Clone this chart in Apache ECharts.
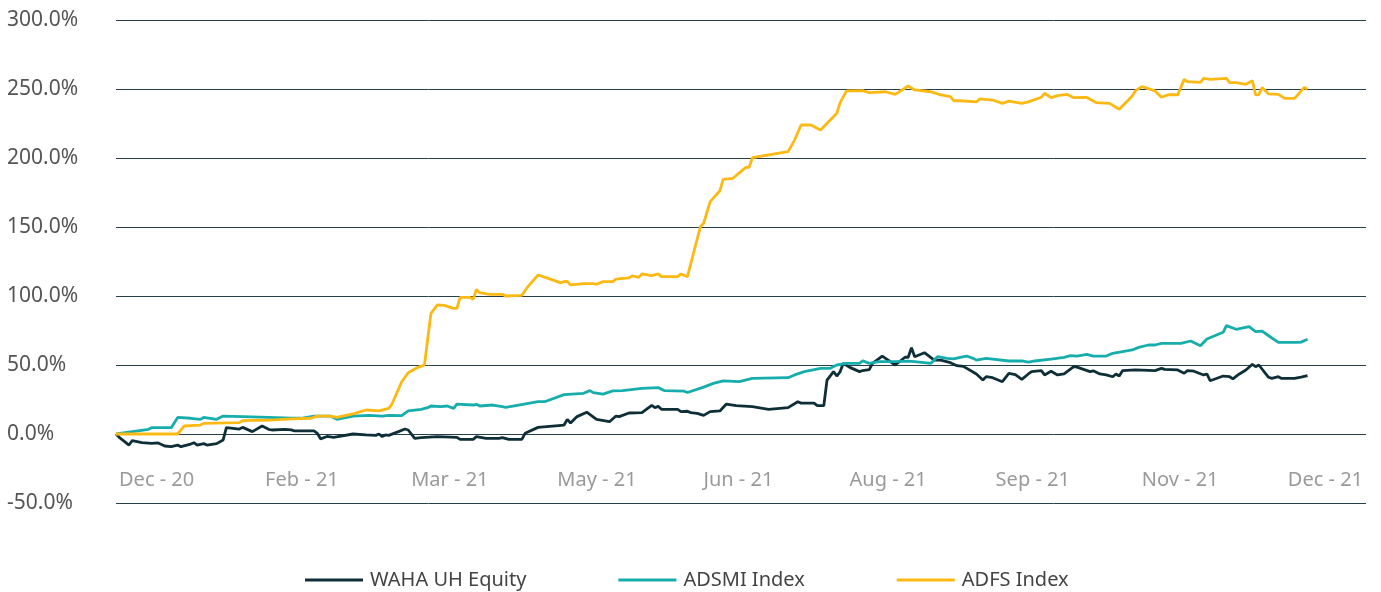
<!DOCTYPE html>
<html>
<head>
<meta charset="utf-8">
<title>WAHA vs ADSMI vs ADFS</title>
<script src="https://cdn.jsdelivr.net/npm/echarts@6/dist/echarts.min.js"></script>
<style>
  html, body { margin: 0; padding: 0; background: #fff; }
  #chart { width: 1381px; height: 592px; }
</style>
</head>
<body>
<div id="chart"></div>
<script>
  // x = calendar days since 31 Dec 2020, y = cumulative return in %
  const tickLabels = ['Dec - 20', 'Feb - 21', 'Mar - 21', 'May - 21', 'Jun - 21', 'Aug - 21', 'Sep - 21', 'Nov - 21', 'Dec - 21'];
  const tickStep = 45;
  const seriesNames = ['WAHA UH Equity', 'ADSMI Index', 'ADFS Index'];

  const waha = [
    [0, 0], [1, -2.4], [4, -8], [5, -4.8], [8, -6.2], [11, -6.8], [13, -6.5], [15, -8.7], [17, -9.2], [19, -8],
    [20, -9.2], [23, -7.3], [24, -6.3], [25, -8], [27, -7], [28, -8], [31, -7], [33, -4.3], [34, 4.6], [38, 3.6],
    [39, 4.8], [42, 1.7], [45, 5.8], [47, 3.4], [48, 2.9], [52, 3.4], [54, 3], [55, 2.2], [61, 2.2], [62, 0.5],
    [63, -3.5], [65, -1.8], [67, -2.4], [73, 0], [77, -0.7], [80, -1], [81, 0], [82, -1.9], [83, -0.7], [84, -1],
    [87, 1.7], [89, 3.6], [90, 2.9], [92, -3.1], [94, -2.7], [99, -1.9], [105, -2.4], [106, -3.9], [110, -3.9], [111, -1.9],
    [114, -3.1], [118, -3.1], [119, -2.6], [121, -3.9], [125, -3.9], [126, 0.5], [130, 4.8], [138, 6.5], [139, 10.6], [140, 8],
    [142, 12.6], [145, 15.8], [148, 10.6], [152, 8.9], [154, 13], [155, 12.6], [158, 15.2], [162, 15.5], [165, 20.8], [166, 19.1],
    [167, 20], [168, 17.9], [173, 17.9], [174, 16.2], [176, 16.5], [177, 15.5], [179, 15], [181, 13.5], [183, 16.2], [186, 16.7],
    [188, 21.7], [191, 20.5], [196, 19.8], [201, 17.9], [207, 19.1], [210, 23.4], [211, 22.4], [215, 22.4], [216, 20.5], [218, 20.5],
    [219, 39.1], [221, 45.2], [222, 42], [223, 45], [224, 51.2], [226, 48.3], [229, 45.2], [230, 46], [232, 46.6], [233, 51.2],
    [236, 56.5], [240, 50], [243, 55.6], [244, 55.6], [245, 62.5], [246, 56], [249, 58.9], [252, 53.6], [254, 53.6], [257, 51.7],
    [259, 49.5], [261, 49], [265, 43.5], [267, 39.1], [268, 41.5], [270, 40.8], [273, 37.9], [275, 44], [277, 43], [279, 39.6],
    [281, 43.5], [282, 45.2], [285, 45.9], [286, 42.8], [288, 45.5], [290, 42.8], [292, 43.5], [295, 48.8], [296, 48.5], [300, 45.2],
    [301, 45.8], [303, 43.5], [305, 42.8], [307, 41.5], [308, 43.5], [309, 42], [310, 45.9], [314, 46.4], [320, 45.9], [322, 47.6],
    [323, 46.8], [327, 46.4], [329, 44], [330, 45.9], [332, 45.5], [335, 42.8], [336, 43.5], [337, 38.6], [341, 42], [343, 41.5],
    [344, 39.9], [346, 43.5], [348, 46.4], [350, 50.5], [351, 48.8], [352, 50], [355, 41.1], [356, 40.3], [358, 41.5], [359, 40.3],
    [363, 40.3], [365, 41.2], [367, 42.3]
  ];

  const adsmi = [
    [0, 0], [10, 3.4], [11, 4.6], [17, 4.6], [19, 12], [23, 11.4], [26, 10.6], [27, 12], [31, 10.6], [33, 13],
    [39, 12.6], [47, 12], [54, 11.4], [57, 11.4], [61, 13], [66, 13], [68, 10.6], [73, 13], [78, 13.5], [82, 13],
    [84, 13.5], [88, 13.3], [90, 16.7], [94, 17.9], [96, 19.1], [97, 20.3], [100, 19.8], [102, 20.3], [104, 18.6], [105, 21.7],
    [110, 21], [111, 21.5], [112, 20.3], [116, 21], [119, 19.8], [120, 19.3], [124, 21], [130, 23.4], [132, 23.4], [138, 28.5],
    [144, 29.5], [146, 31.4], [147, 30], [150, 28.9], [153, 31.3], [156, 31.4], [162, 33.1], [167, 33.6], [169, 31.4], [175, 31],
    [176, 30.1], [181, 34], [184, 36.7], [187, 38.5], [192, 37.9], [196, 40.3], [207, 40.8], [209, 42.8], [212, 45.2], [217, 47.6],
    [220, 47.6], [222, 50], [225, 51.2], [229, 51.2], [230, 53.1], [232, 51.2], [235, 52.4], [240, 52.4], [244, 52.8], [246, 52.4],
    [251, 51.2], [253, 56], [256, 54.8], [258, 54.5], [260, 55.6], [262, 56.5], [264, 54.8], [265, 53.6], [268, 54.8], [275, 52.9],
    [279, 52.9], [281, 52], [283, 52.9], [288, 54.3], [292, 55.6], [294, 56.8], [296, 56.5], [299, 57.7], [301, 56.5], [305, 56.5],
    [307, 58.5], [313, 60.9], [315, 62.8], [318, 64.5], [320, 64.5], [322, 65.7], [328, 65.7], [331, 67.4], [334, 64], [336, 68.8],
    [341, 73.7], [342, 78.5], [345, 75.9], [349, 77.8], [351, 74.2], [353, 74.5], [355, 71.2], [358, 66.4], [364, 66.4], [365, 66.6],
    [367, 68.6]
  ];

  const adfs = [
    [0, 0], [19, 0], [21, 5.8], [26, 6.5], [27, 7.7], [38, 8.2], [39, 9.7], [45, 10.1], [46, 9.8], [54, 11],
    [60, 11.4], [62, 13], [66, 13], [68, 12], [73, 14.5], [75, 16], [77, 17.4], [81, 16.7], [84, 18.6], [85, 21.7],
    [88, 37.9], [90, 44.4], [93, 48.3], [95, 50], [97, 87.4], [99, 93.5], [101, 93.2], [104, 91], [105, 91], [106, 99],
    [109, 99], [110, 97.6], [111, 104.8], [112, 102.4], [115, 101.2], [119, 101.2], [120, 100], [125, 100.5], [127, 107.2], [130, 115.2],
    [134, 112], [137, 109.5], [138, 110.5], [139, 110.5], [140, 108], [144, 109], [147, 109], [148, 108.5], [150, 110.4], [153, 110.4],
    [154, 112.3], [158, 113.2], [159, 114.5], [161, 113.5], [162, 116], [165, 114.7], [167, 116], [168, 114], [173, 114], [174, 116],
    [176, 114], [180, 150.2], [181, 152.7], [183, 168.4], [186, 176.3], [187, 184.5], [190, 185.3], [194, 193.2], [195, 193.2], [196, 200.2],
    [207, 204.6], [209, 213], [211, 223.9], [214, 223.9], [217, 220.3], [222, 232.4], [223, 240], [225, 248.6], [230, 248.8], [232, 247.3],
    [237, 248], [240, 246.1], [244, 252.2], [246, 249.3], [251, 248], [254, 245.7], [257, 244.4], [258, 241.5], [260, 241.5], [265, 240.6],
    [266, 242.8], [270, 242], [273, 239.6], [275, 241.2], [279, 239.6], [281, 240.7], [285, 244], [286, 246.9], [288, 243.7], [290, 245.2],
    [293, 246.1], [295, 243.7], [299, 243.9], [302, 240.1], [306, 239.6], [309, 235.3], [313, 244.9], [314, 248.8], [316, 251.7], [320, 248.6],
    [322, 244], [324, 245.7], [325, 246], [327, 245.7], [329, 257], [330, 255.3], [334, 254.8], [335, 257.7], [337, 257], [342, 257.7],
    [343, 254.6], [345, 254.6], [348, 253.4], [350, 256], [351, 245.7], [352, 246], [353, 251], [355, 246.4], [358, 246.1], [360, 243.2],
    [363, 243.2], [366, 251.2], [367, 249.8]
  ];

  const colors = ['#0e2f38', '#17adad', '#fdb913'];

  const chart = echarts.init(document.getElementById('chart'), null, { renderer: 'canvas' });

  function lineSeries(name, data, color) {
    return {
      name: name,
      type: 'line',
      data: data,
      showSymbol: false,
      symbol: 'none',
      lineStyle: { color: color, width: 2.8 },
      itemStyle: { color: color },
    };
  }

  const option = {
    animation: false,
    color: colors,
    grid: { left: 116, right: 15, top: 20, bottom: 89, containLabel: false },
    legend: {
      left: 300,
      top: 565,
      icon: 'rect',
      itemWidth: 58,
      itemHeight: 3,
      itemGap: 92,
      textStyle: { fontFamily: 'Noto Sans', fontSize: 20, color: '#444', padding: [0, 0, 0, 2] },
      data: seriesNames,
    },
    xAxis: {
      type: 'value',
      min: 0,
      max: 385,
      interval: tickStep,
      axisLine: { show: false },
      axisTick: { show: false },
      splitLine: { show: false },
      axisLabel: {
        inside: true,
        margin: 13,
        align: 'left',
        padding: [0, 0, 0, 3],
        fontFamily: 'Noto Sans',
        fontSize: 20,
        color: '#9a9a9a',
        formatter: function (v) {
          return v % tickStep === 0 ? (tickLabels[v / tickStep] || '') : '';
        },
      },
    },
    yAxis: {
      type: 'value',
      min: -50,
      max: 300,
      interval: 50,
      axisLine: { show: false },
      axisTick: { show: false },
      splitLine: { lineStyle: { color: '#27404a', width: 1 } },
      axisLabel: {
        align: 'left',
        margin: 109,
        fontFamily: 'Noto Sans',
        fontSize: 21,
        color: '#555',
        formatter: function (v) {
          return v.toFixed(1) + '%';
        },
      },
    },
    series: [
      lineSeries(seriesNames[0], waha, colors[0]),
      lineSeries(seriesNames[1], adsmi, colors[1]),
      lineSeries(seriesNames[2], adfs, colors[2]),
    ],
  };

  chart.setOption(option);
</script>
</body>
</html>
